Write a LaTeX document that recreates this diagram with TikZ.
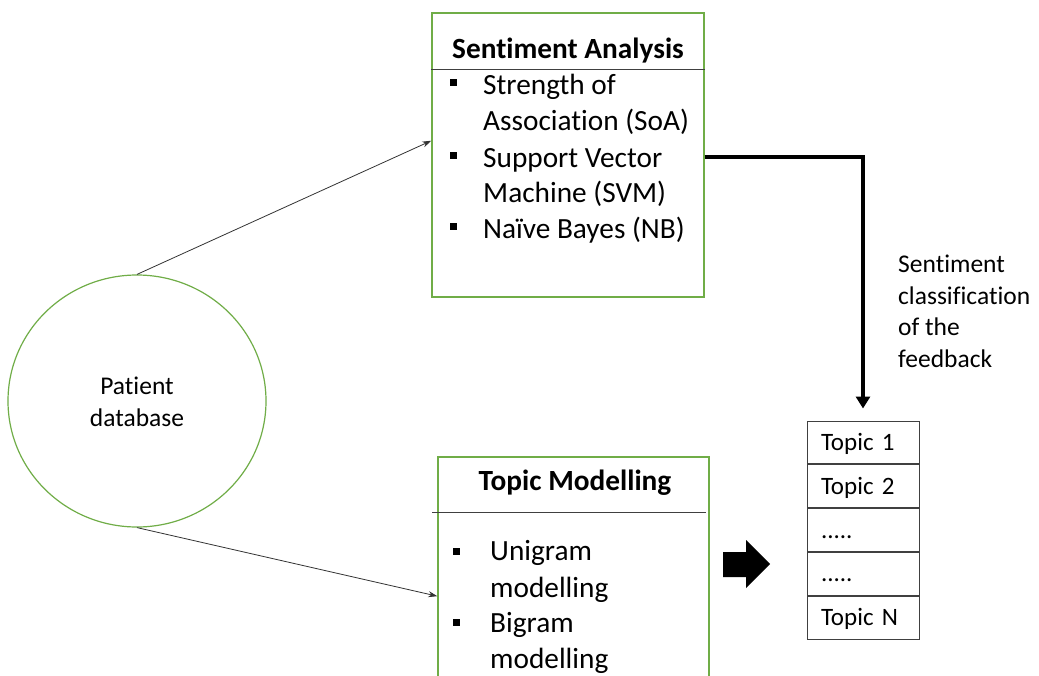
\documentclass[tikz,border=0pt]{standalone}
\usepackage{fontspec}
\setmainfont[Ligatures=NoCommon]{Carlito}
\usetikzlibrary{arrows.meta,calc,shapes.geometric}
\definecolor{boxgreen}{RGB}{112,173,71}
\definecolor{rulegray}{RGB}{64,64,64}
\begin{document}
\begin{tikzpicture}[x=1pt,y=-1pt,
  greenbox/.style={draw=boxgreen,line width=1.4pt,inner sep=0},
  head/.style={font=\fontsize{29.3}{35}\selectfont\bfseries,inner sep=0,anchor=base},
  item/.style={font=\fontsize{29.3}{35}\selectfont,inner sep=0,anchor=base west},
  feed/.style={-{Stealth[length=9pt,width=6pt]},line width=0.8pt,draw=black!80},
  topicrow/.style={draw=rulegray,line width=1pt,minimum width=112,minimum height=42.8,
    inner xsep=14,inner ysep=0,text height=16pt,text depth=0pt,text width=84,align=left,
    font=\fontsize{25}{30}\selectfont},
  bullet/.style={fill=black},
]
\clip (0,0) rectangle (1039,675);
\fill[white] (0,0) rectangle (1039,675);

% data source
\node[ellipse,draw=boxgreen,line width=1.2pt,minimum width=258,minimum height=252,inner sep=0] (db) at (137,401) {};
\node[anchor=base,align=center,inner sep=0,font=\fontsize{25.5}{32}\selectfont] (dbtext) at (137,426) {Patient\\database};

% sentiment analysis box
\node[greenbox,minimum width=272,minimum height=284] (sa) at (568,155) {};
\node[head] (sahead) at (568,58) {Sentiment Analysis};
\draw[rulegray,line width=0.9pt] ($(sa.north west)+(0,57)$) -- ($(sa.north east)+(0,57)$);
\node[item] (sa1) at (483,94) {Strength of};
\node[item] (sa2) at (483,130) {Association (SoA)};
\node[item] (sa3) at (483,167) {Support Vector};
\node[item] (sa4) at (483,202) {Machine (SVM)};
\node[item] (sa5) at (483,238) {Naïve Bayes (NB)};
\fill[bullet] (450,79) rectangle (457,86);
\fill[bullet] (450,152) rectangle (457,159);
\fill[bullet] (450,223) rectangle (457,230);

% topic modelling box
\node[greenbox,minimum width=271,minimum height=263] (tm) at (573.5,588.5) {};
\node[head] (tmhead) at (575,490) {Topic Modelling};
\draw[rulegray,line width=0.9pt] ($(tm.north west)+(-5,56)$) -- ($(tm.north east)+(-4,56)$);
\node[item] (tm1) at (490,560) {Unigram};
\node[item] (tm2) at (490,597) {modelling};
\node[item] (tm3) at (490,632) {Bigram};
\node[item] (tm4) at (490,668) {modelling};
\fill[bullet] (452.5,547.5) rectangle (459.5,554.5);
\fill[bullet] (452.5,619) rectangle (459.5,626);

% topic list
\node[topicrow] (t1) at (863,442.4) {Topic 1};
\node[topicrow,anchor=north] (t2) at (t1.south) {Topic 2};
\node[topicrow,anchor=north] (t3) at (t2.south) {.....};
\node[topicrow,anchor=north] (t4) at (t3.south) {.....};
\node[topicrow,anchor=north] (t5) at (t4.south) {Topic N};

% connectors
\draw[feed] (db.north) -- ($(sa.north west)!0.45!(sa.south west)$);
\draw[feed] (db.south) -- ($(tm.north west)!0.529!(tm.south west)$);
\draw[line width=4pt,-{Triangle[length=12pt,width=14pt]},shorten >=12pt]
  ($(sa.east)+(0,2)$) -| (t1.north);
\node[anchor=base west,align=left,inner sep=0,font=\fontsize{25.5}{31.5}\selectfont] (lbl) at (898,367)
  {Sentiment\\classification\\of the\\feedback};

% block arrow between topic modelling and the topic list
\fill (723,552) -- (746,552) -- (746,540) -- (770,564) -- (746,588) -- (746,577) -- (723,577) -- cycle;
\end{tikzpicture}
\end{document}
